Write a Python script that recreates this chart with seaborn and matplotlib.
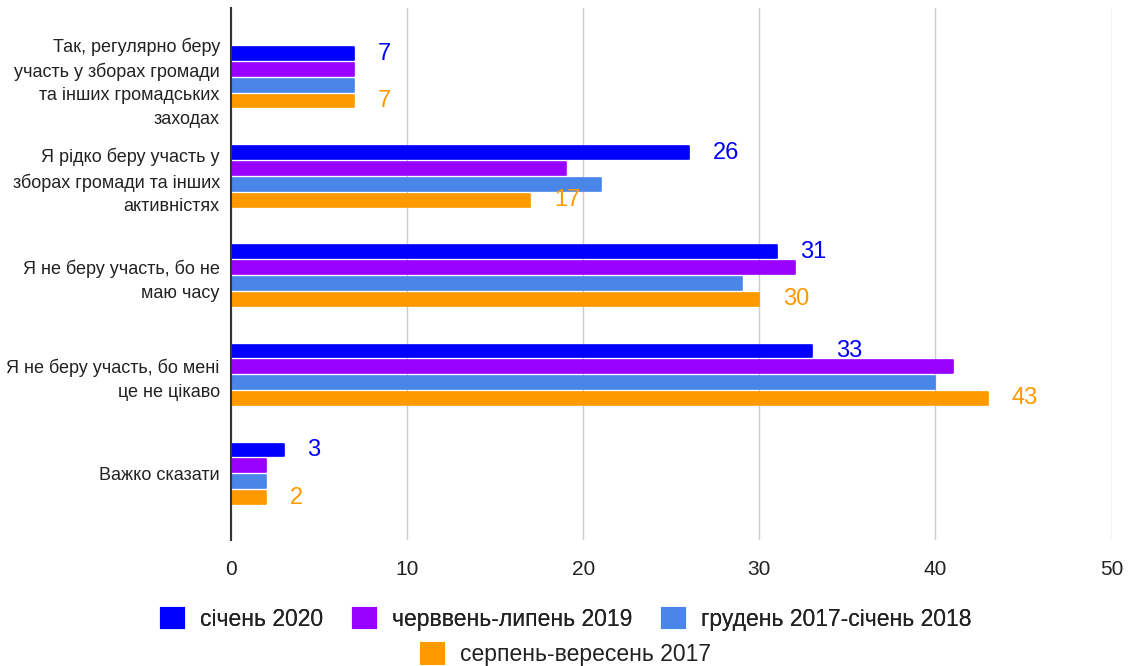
import numpy as np
import pandas as pd
import seaborn as sns
import matplotlib.pyplot as plt
from matplotlib.patches import Patch

categories = [
    "Так, регулярно беру\nучасть у зборах громади\nта інших громадських\nзаходах",
    "Я рідко беру участь у\nзборах громади та інших\nактивністях",
    "Я не беру участь, бо не\nмаю часу",
    "Я не беру участь, бо мені\nце не цікаво",
    "Важко сказати",
]
periods = ["січень 2020", "черввень-липень 2019", "грудень 2017-січень 2018", "серпень-вересень 2017"]
jan_2020 = [7, 26, 31, 33, 3]
jun_jul_2019 = [7, 19, 32, 41, 2]
dec_2017_jan_2018 = [7, 21, 29, 40, 2]
aug_sep_2017 = [7, 17, 30, 43, 2]
colors = ["#0000ff", "#9900ff", "#4a86e8", "#ff9900"]

series = [jan_2020, jun_jul_2019, dec_2017_jan_2018, aug_sep_2017]
rows = []
for p, vals in zip(periods, series):
    for c, v in zip(categories, vals):
        rows.append({"category": c, "period": p, "value": v})
df = pd.DataFrame(rows)

sns.set_style("white")
plt.rcParams["font.family"] = ["Liberation Sans", "DejaVu Sans"]

fig = plt.figure(figsize=(11.32, 6.66), dpi=100)
ax = fig.add_axes([0.204, 0.189, 0.778, 0.799])

sns.barplot(data=df, y="category", x="value", hue="period", orient="h",
            palette=colors, width=0.64, gap=0.2, ax=ax, legend=False,
            saturation=1)

# slightly rounded ends
for cont, col in zip(ax.containers, colors):
    for bar in cont:
        bar.set_edgecolor(col)
        bar.set_linewidth(1.2)
        bar.set_joinstyle("round")

# value labels only on first and last series
for i in (0, 3):
    ax.bar_label(ax.containers[i], padding=17, color=colors[i], fontsize=17)

ax.set_xlim(0, 50)
ax.set_ylim(4.67, -0.7)
ax.set_xticks([0, 10, 20, 30, 40, 50])
ax.tick_params(axis="x", labelsize=15, colors="#222222", length=0, pad=14)
ax.tick_params(axis="y", labelsize=13, colors="#222222", length=0, pad=8)
ax.grid(axis="x", color="#cccccc", linewidth=1)
ax.set_axisbelow(True)
ax.set_xlabel("")
ax.set_ylabel("")
for s in ["top", "right", "bottom"]:
    ax.spines[s].set_visible(False)
ax.spines["left"].set_color("#333333")
ax.spines["left"].set_linewidth(1.5)
for lbl in ax.get_yticklabels():
    lbl.set_horizontalalignment("right")
    lbl.set_multialignment("right")
    lbl.set_linespacing(1.5)

handles = [Patch(facecolor=c, edgecolor=c, joinstyle="round", linewidth=1.5) for c in colors]
leg_kw = dict(frameon=False, fontsize=16.5, handlelength=1.0, handleheight=1.0,
              handletextpad=0.7, columnspacing=1.3)
leg1 = fig.legend(handles[:3], periods[:3], loc="center", bbox_to_anchor=(0.5, 0.07),
                  ncol=3, **leg_kw)
leg2 = fig.legend(handles[3:], periods[3:], loc="center", bbox_to_anchor=(0.5, 0.017),
                  ncol=1, **leg_kw)
fig.add_artist(leg1)
for t in leg1.get_texts() + leg2.get_texts():
    t.set_color("#222222")

fig.savefig("out.png", dpi=100)
